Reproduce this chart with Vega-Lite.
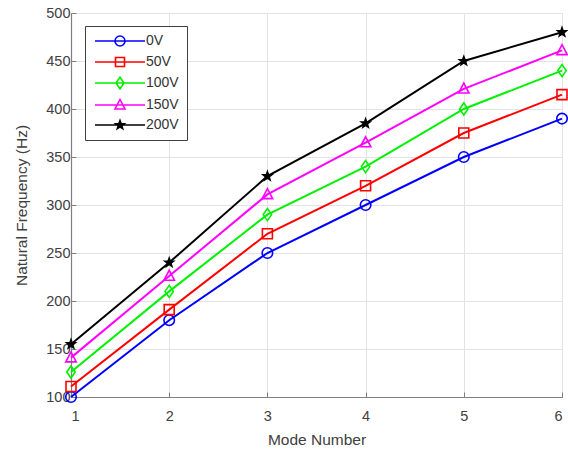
{
  "$schema": "https://vega.github.io/schema/vega-lite/v6.json",
  "width": 491,
  "height": 384,
  "autosize": {"type": "none"},
  "padding": {"left": 71, "top": 13, "right": 6, "bottom": 57},
  "background": "white",
  "config": {
    "font": "Liberation Sans",
    "view": {"stroke": "#dcdcdc", "strokeWidth": 1},
    "axis": {
      "domainColor": "#7f7f7f",
      "domainWidth": 1.2,
      "tickColor": "#7f7f7f",
      "tickSize": -5,
      "gridColor": "#e3e3e3",
      "gridWidth": 1,
      "labelColor": "#404040",
      "labelFontSize": 14.5,
      "titleColor": "#404040",
      "titleFontSize": 15.5,
      "titleFontWeight": "normal"
    }
  },
  "data": {
    "values": [
      {"series": "0V", "mode": 1, "freq": 100},
      {"series": "0V", "mode": 2, "freq": 180},
      {"series": "0V", "mode": 3, "freq": 250},
      {"series": "0V", "mode": 4, "freq": 300},
      {"series": "0V", "mode": 5, "freq": 350},
      {"series": "0V", "mode": 6, "freq": 390},
      {"series": "50V", "mode": 1, "freq": 111},
      {"series": "50V", "mode": 2, "freq": 191},
      {"series": "50V", "mode": 3, "freq": 270},
      {"series": "50V", "mode": 4, "freq": 320},
      {"series": "50V", "mode": 5, "freq": 375},
      {"series": "50V", "mode": 6, "freq": 415},
      {"series": "100V", "mode": 1, "freq": 126},
      {"series": "100V", "mode": 2, "freq": 210},
      {"series": "100V", "mode": 3, "freq": 290},
      {"series": "100V", "mode": 4, "freq": 340},
      {"series": "100V", "mode": 5, "freq": 400},
      {"series": "100V", "mode": 6, "freq": 440},
      {"series": "150V", "mode": 1, "freq": 141},
      {"series": "150V", "mode": 2, "freq": 226},
      {"series": "150V", "mode": 3, "freq": 311},
      {"series": "150V", "mode": 4, "freq": 365},
      {"series": "150V", "mode": 5, "freq": 421},
      {"series": "150V", "mode": 6, "freq": 461},
      {"series": "200V", "mode": 1, "freq": 155},
      {"series": "200V", "mode": 2, "freq": 240},
      {"series": "200V", "mode": 3, "freq": 330},
      {"series": "200V", "mode": 4, "freq": 385},
      {"series": "200V", "mode": 5, "freq": 450},
      {"series": "200V", "mode": 6, "freq": 480}
    ]
  },
  "encoding": {
    "x": {
      "field": "mode",
      "type": "quantitative",
      "scale": {"domain": [1, 6], "nice": false, "zero": false},
      "axis": {"title": "Mode Number", "values": [1, 2, 3, 4, 5, 6], "format": "d", "labelPadding": 17, "titlePadding": 10}
    },
    "y": {
      "field": "freq",
      "type": "quantitative",
      "scale": {"domain": [100, 500], "nice": false, "zero": false},
      "axis": {"title": "Natural Frequency (Hz)", "values": [100, 150, 200, 250, 300, 350, 400, 450, 500], "labelPadding": 6, "titlePadding": 16}
    },
    "stroke": {
      "field": "series",
      "type": "nominal",
      "scale": {"domain": ["0V", "50V", "100V", "150V", "200V"], "range": ["#0000ff", "#ff0000", "#00f000", "#ff00ff", "#000000"]},
      "legend": {
        "title": null,
        "orient": "none",
        "legendX": 14,
        "legendY": 13,
        "strokeColor": "#404040",
        "fillColor": "white",
        "padding": 8,
        "labelFontSize": 14,
        "labelColor": "#333333",
        "symbolOffset": 20,
        "labelOffset": 19,
        "rowPadding": 4,
        "encode": {
          "symbols": {
            "update": {
              "shape": {"signal": "datum.value === '0V' ? 'M-5,0H5M1,0A1,1,0,1,1,-1,0A1,1,0,1,1,1,0Z' : datum.value === '50V' ? 'M-5,0H5M-0.9,-0.9H0.9V0.9H-0.9Z' : datum.value === '100V' ? 'M-5,0H5M0,-1.15L0.8,0L0,1.15L-0.8,0Z' : datum.value === '150V' ? 'M-5,0H5M0,-1.1L1,0.8H-1Z' : 'M-5,0H5M0,-0.9L0.216,-0.298L0.856,-0.278L0.35,0.114L0.529,0.728L0,0.368L-0.529,0.728L-0.35,0.114L-0.856,-0.278L-0.216,-0.298Z'"},
              "fill": {"signal": "datum.value === '200V' ? '#000000' : 'transparent'"},
              "size": {"value": 100},
              "strokeWidth": {"value": 1.6}
            }
          }
        }
      }
    }
  },
  "layer": [
    {"mark": {"type": "line", "strokeWidth": 2}},
    {
      "transform": [{"filter": "datum.series === '0V'"}],
      "mark": {"type": "point", "shape": "circle", "filled": false, "size": 110, "strokeWidth": 1.6, "opacity": 1}
    },
    {
      "transform": [{"filter": "datum.series === '50V'"}],
      "mark": {"type": "point", "shape": "square", "filled": false, "size": 100, "strokeWidth": 1.6, "opacity": 1}
    },
    {
      "transform": [{"filter": "datum.series === '100V'"}],
      "mark": {"type": "point", "shape": "M0,-1.15L0.8,0L0,1.15L-0.8,0Z", "filled": false, "size": 110, "strokeWidth": 1.6, "opacity": 1}
    },
    {
      "transform": [{"filter": "datum.series === '150V'"}],
      "mark": {"type": "point", "shape": "M0,-1.1L1,0.8H-1Z", "filled": false, "size": 110, "strokeWidth": 1.6, "opacity": 1}
    },
    {
      "transform": [{"filter": "datum.series === '200V'"}],
      "mark": {"type": "point", "shape": "M0,-0.9L0.216,-0.298L0.856,-0.278L0.35,0.114L0.529,0.728L0,0.368L-0.529,0.728L-0.35,0.114L-0.856,-0.278L-0.216,-0.298Z", "filled": true, "fill": "#000000", "size": 100, "strokeWidth": 1.6, "opacity": 1}
    }
  ]
}
